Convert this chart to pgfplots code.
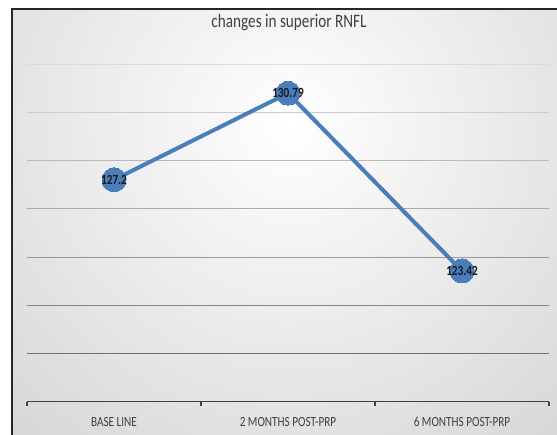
\documentclass[border=0pt]{standalone}
\usepackage{fontspec}
\setmainfont{Carlito}
\usepackage{graphicx}
\usepackage{pgfplots}
\pgfplotsset{compat=1.18}
\definecolor{serblue}{RGB}{74,126,187}
\definecolor{txtgray}{RGB}{64,64,64}
\begin{document}
\begin{tikzpicture}[x=1pt,y=1pt]
\useasboundingbox (0,0) rectangle (557,435);
\begin{scope}
\clip (12,0) rectangle (557,426);
\shade[inner color=white, outer color=black!19] (-210,-190) rectangle (790,810);
\end{scope}
\draw[black!85, line width=1.5pt] (12,0) -- (12,426) -- (557,426);
\node[font=\fontsize{19}{21}\selectfont, text=txtgray] at (289,412) {\scalebox{0.8}[1]{changes in superior RNFL}};
\begin{axis}[
  at={(27pt,33.3pt)}, anchor=south west,
  scale only axis, width=522pt, height=337.7pt,
  xmin=-0.5, xmax=2.5, ymin=118, ymax=132,
  clip=false,
  axis line style={draw=none},
  xtick={-0.5,0.5,1.5,2.5}, xticklabels={},
  xtick pos=bottom, xtick align=outside,
  major tick length=4pt,
  xtick style={draw=black!75, line width=1.3pt},
  ytick=\empty,
  extra x ticks={0,1,2},
  extra x tick labels={\scalebox{0.8}[1]{BASE LINE}, \scalebox{0.8}[1]{2 MONTHS POST-PRP}, \scalebox{0.8}[1]{6 MONTHS POST-PRP}},
  extra x tick style={major tick length=0pt,
    xticklabel style={font=\fontsize{14}{15}\selectfont, text=txtgray, anchor=center, yshift=-20pt}},
  point meta=explicit symbolic,
  nodes near coords={\scalebox{0.8}[1]{\pgfplotspointmeta}},
  nodes near coords style={anchor=center, font=\bfseries\fontsize{14}{15}\selectfont, text=black!90},
]
\draw[black!14, line width=0.8pt] (axis cs:-0.5,132) -- (axis cs:2.5,132);
\draw[black!20, line width=0.8pt] (axis cs:-0.5,130) -- (axis cs:2.5,130);
\draw[black!27, line width=0.8pt] (axis cs:-0.5,128) -- (axis cs:2.5,128);
\draw[black!33, line width=0.8pt] (axis cs:-0.5,126) -- (axis cs:2.5,126);
\draw[black!40, line width=0.8pt] (axis cs:-0.5,124) -- (axis cs:2.5,124);
\draw[black!48, line width=0.8pt] (axis cs:-0.5,122) -- (axis cs:2.5,122);
\draw[black!56, line width=0.8pt] (axis cs:-0.5,120) -- (axis cs:2.5,120);
\draw[black!75, line width=1.5pt] (rel axis cs:0,0) -- (rel axis cs:1,0);
\addplot[color=serblue, line width=4pt, mark=*, mark size=12pt,
  mark options={fill=serblue, draw=serblue, line width=0pt}]
  coordinates {(0,127.2) [127.2] (1,130.79) [130.79] (2,123.42) [123.42]};
\end{axis}
\end{tikzpicture}
\end{document}
